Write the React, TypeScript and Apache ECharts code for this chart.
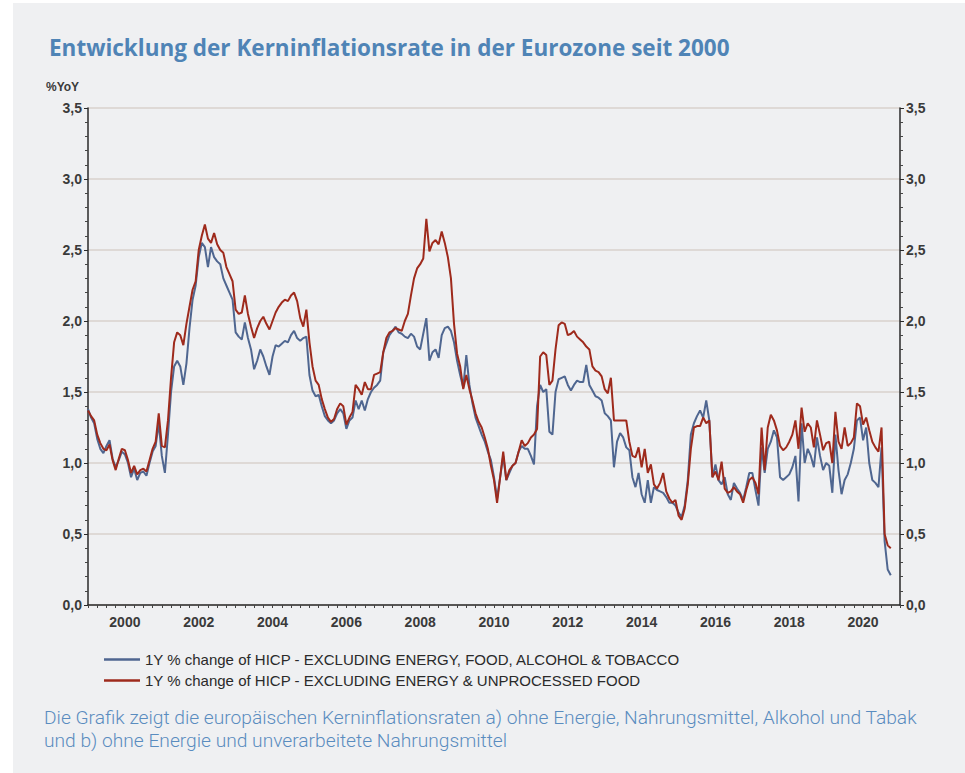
import React, { useEffect, useRef } from "react";
import * as echarts from "echarts";

// Monthly values, Jan 1999 .. Oct 2020 (one row per year)
const exEnergyFoodAlcTob: number[] = [
  1.38, 1.32, 1.28, 1.17, 1.10, 1.07, 1.12, 1.16, 1.03, 0.97, 1.02, 1.08, // 1999
  1.06, 1.00, 0.90, 0.96, 0.88, 0.93, 0.94, 0.91, 1.00, 1.08, 1.12, 1.28, // 2000
  1.05, 0.93, 1.20, 1.50, 1.68, 1.72, 1.68, 1.55, 1.70, 1.95, 2.15, 2.25, // 2001
  2.45, 2.55, 2.52, 2.38, 2.52, 2.45, 2.42, 2.40, 2.30, 2.25, 2.20, 2.15, // 2002
  1.92, 1.89, 1.87, 1.99, 1.88, 1.80, 1.66, 1.72, 1.80, 1.75, 1.68, 1.62, // 2003
  1.75, 1.83, 1.82, 1.84, 1.86, 1.85, 1.90, 1.93, 1.88, 1.86, 1.88, 1.89, // 2004
  1.62, 1.51, 1.47, 1.48, 1.40, 1.33, 1.30, 1.28, 1.30, 1.35, 1.38, 1.35, // 2005
  1.24, 1.30, 1.32, 1.44, 1.38, 1.44, 1.37, 1.45, 1.50, 1.53, 1.55, 1.58, // 2006
  1.78, 1.84, 1.90, 1.93, 1.96, 1.92, 1.91, 1.89, 1.88, 1.91, 1.89, 1.82, // 2007
  1.80, 1.91, 2.02, 1.72, 1.78, 1.80, 1.74, 1.90, 1.95, 1.96, 1.93, 1.85, // 2008
  1.72, 1.62, 1.53, 1.76, 1.55, 1.42, 1.32, 1.26, 1.20, 1.15, 1.08, 1.02, // 2009
  0.90, 0.75, 0.90, 1.05, 0.88, 0.93, 0.98, 1.00, 1.08, 1.12, 1.10, 1.10, // 2010
  1.05, 0.99, 1.40, 1.55, 1.50, 1.52, 1.22, 1.20, 1.50, 1.59, 1.60, 1.61, // 2011
  1.55, 1.51, 1.55, 1.58, 1.57, 1.57, 1.69, 1.55, 1.51, 1.47, 1.46, 1.44, // 2012
  1.35, 1.33, 1.30, 0.97, 1.15, 1.21, 1.18, 1.11, 1.09, 0.90, 0.83, 0.93, // 2013
  0.78, 0.72, 0.88, 0.72, 0.83, 0.81, 0.80, 0.79, 0.76, 0.72, 0.72, 0.70, // 2014
  0.65, 0.62, 0.70, 0.88, 1.20, 1.28, 1.33, 1.37, 1.32, 1.44, 1.30, 0.90, // 2015
  0.99, 0.88, 0.85, 0.90, 0.78, 0.74, 0.86, 0.82, 0.79, 0.74, 0.83, 0.93, // 2016
  0.93, 0.81, 0.70, 1.11, 0.93, 1.10, 1.15, 1.23, 1.18, 0.90, 0.88, 0.90, // 2017
  0.92, 0.97, 1.05, 0.73, 1.28, 1.00, 1.10, 1.05, 0.97, 1.18, 1.05, 0.95, // 2018
  1.00, 0.98, 0.79, 1.20, 0.95, 0.78, 0.88, 0.92, 1.00, 1.10, 1.30, 1.32, // 2019
  1.16, 1.25, 1.00, 0.88, 0.86, 0.83, 1.11, 0.45, 0.25, 0.21, // 2020
];

const exEnergyUnprocFood: number[] = [
  1.37, 1.33, 1.30, 1.20, 1.14, 1.10, 1.09, 1.13, 1.02, 0.95, 1.03, 1.10, // 1999
  1.09, 1.02, 0.93, 0.98, 0.92, 0.95, 0.96, 0.94, 1.02, 1.10, 1.15, 1.35, // 2000
  1.12, 1.11, 1.30, 1.60, 1.85, 1.92, 1.90, 1.83, 1.98, 2.10, 2.22, 2.28, // 2001
  2.50, 2.60, 2.68, 2.58, 2.55, 2.62, 2.54, 2.50, 2.48, 2.38, 2.33, 2.28, // 2002
  2.08, 2.05, 2.06, 2.18, 2.05, 1.96, 1.88, 1.95, 2.00, 2.03, 1.98, 1.94, // 2003
  2.00, 2.06, 2.10, 2.13, 2.15, 2.14, 2.18, 2.20, 2.14, 2.02, 1.96, 2.08, // 2004
  1.85, 1.68, 1.58, 1.55, 1.45, 1.38, 1.32, 1.29, 1.31, 1.38, 1.42, 1.40, // 2005
  1.27, 1.32, 1.36, 1.55, 1.52, 1.48, 1.57, 1.52, 1.52, 1.62, 1.63, 1.64, // 2006
  1.78, 1.88, 1.92, 1.93, 1.95, 1.94, 1.93, 2.00, 2.05, 2.18, 2.30, 2.37, // 2007
  2.40, 2.44, 2.72, 2.49, 2.55, 2.57, 2.54, 2.63, 2.55, 2.45, 2.30, 1.98, // 2008
  1.77, 1.68, 1.52, 1.62, 1.52, 1.44, 1.35, 1.29, 1.25, 1.18, 1.10, 0.98, // 2009
  0.88, 0.72, 0.90, 1.08, 0.88, 0.95, 0.98, 1.00, 1.08, 1.16, 1.12, 1.14, // 2010
  1.18, 1.20, 1.24, 1.75, 1.78, 1.76, 1.55, 1.58, 1.80, 1.97, 1.99, 1.98, // 2011
  1.90, 1.91, 1.93, 1.89, 1.87, 1.85, 1.82, 1.80, 1.68, 1.65, 1.64, 1.61, // 2012
  1.52, 1.49, 1.60, 1.30, 1.30, 1.30, 1.30, 1.30, 1.15, 1.05, 1.04, 1.11, // 2013
  0.97, 1.10, 0.93, 0.99, 0.85, 0.82, 0.86, 0.93, 0.80, 0.75, 0.72, 0.74, // 2014
  0.63, 0.60, 0.68, 0.85, 1.10, 1.25, 1.26, 1.26, 1.32, 1.28, 1.30, 0.90, // 2015
  0.94, 0.88, 1.01, 0.82, 0.79, 0.80, 0.83, 0.80, 0.78, 0.72, 0.81, 0.88, // 2016
  0.90, 0.86, 0.78, 1.25, 0.95, 1.25, 1.34, 1.30, 1.23, 1.12, 1.09, 1.11, // 2017
  1.15, 1.20, 1.30, 1.10, 1.39, 1.22, 1.28, 1.25, 1.11, 1.30, 1.20, 1.09, // 2018
  1.14, 1.15, 1.00, 1.36, 1.15, 1.10, 1.25, 1.12, 1.14, 1.18, 1.42, 1.40, // 2019
  1.27, 1.32, 1.23, 1.15, 1.11, 1.08, 1.25, 0.50, 0.42, 0.40, // 2020
];

const seriesNames = [
  "1Y % change of HICP - EXCLUDING ENERGY, FOOD, ALCOHOL & TOBACCO",
  "1Y % change of HICP - EXCLUDING ENERGY & UNPROCESSED FOOD",
];
const seriesColors = ["#4f6690", "#9e2a1c"];

const firstYear = 1999;
const lastYear = 2021; // axis runs to Jan 2021
const labelYears = ["2000", "2002", "2004", "2006", "2008", "2010", "2012", "2014", "2016", "2018", "2020"];

const titleText = "Entwicklung der Kerninflationsrate in der Eurozone seit 2000";
const unitText = "%YoY";
const captionLines = [
  "Die Grafik zeigt die europäischen Kerninflationsraten a) ohne Energie, Nahrungsmittel, Alkohol und Tabak",
  "und b) ohne Energie und unverarbeitete Nahrungsmittel",
];

const months: string[] = [];
for (let y = firstYear; y <= lastYear; y++) {
  for (let m = 1; m <= 12; m++) {
    if (y === lastYear && m > 1) break;
    months.push(`${y}-${String(m).padStart(2, "0")}`);
  }
}

export default function App() {
  const ref = useRef<HTMLDivElement>(null);
  useEffect(() => {
    if (!ref.current) return;
    const chart = echarts.init(ref.current, undefined, { renderer: "svg" });
    const axisLabelStyle = {
      color: "#3a3a3a",
      fontFamily: "Liberation Sans",
      fontWeight: "bold" as const,
      fontSize: 14,
    };
    const yAxisCommon = {
      type: "value" as const,
      min: 0,
      max: 3.5,
      interval: 0.5,
      axisLine: { show: true, lineStyle: { color: "#2a2a2a", width: 1.5 } },
      axisTick: { show: true, length: 4, lineStyle: { color: "#2a2a2a" } },
      minorTick: { show: true, splitNumber: 5, length: 3, lineStyle: { color: "#444" } },
      axisLabel: {
        ...axisLabelStyle,
        margin: 6,
        formatter: (v: number) => v.toFixed(1).replace(".", ","),
      },
    };
    chart.setOption({
      animation: false,
      backgroundColor: "#ffffff",
      title: {
        text: titleText,
        left: 44,
        top: 31,
        textStyle: {
          color: "#4f84b6",
          fontSize: 22.5,
          fontWeight: "bold",
          fontFamily: "Open Sans",
        },
      },
      graphic: [
        {
          type: "rect",
          z: -10,
          shape: { x: 13, y: 3, width: 952, height: 770 },
          style: { fill: "#eff0f2" },
        },
        {
          type: "text",
          left: 46,
          top: 81,
          style: {
            text: unitText,
            fill: "#3a3a3a",
            font: "bold 12px 'Liberation Sans'",
          },
        },
        {
          type: "text",
          left: 44,
          top: 706,
          style: {
            text: captionLines.join("\n"),
            fill: "#5a8cbf",
            font: "300 19.2px Roboto",
            lineHeight: 23,
          },
        },
      ],
      legend: {
        orient: "vertical",
        left: 99,
        top: 647,
        icon: "rect",
        itemWidth: 36,
        itemHeight: 2.5,
        itemGap: 6,
        data: seriesNames,
        textStyle: { color: "#2a2a2a", fontSize: 15, fontFamily: "Liberation Sans" },
      },
      grid: { left: 88, right: 65, top: 108, bottom: 168 },
      xAxis: {
        type: "category",
        data: months,
        boundaryGap: false,
        axisLine: { lineStyle: { color: "#2a2a2a", width: 1.5 } },
        axisTick: {
          show: true,
          length: 3,
          interval: (i: number) => i % 3 === 0,
          lineStyle: { color: "#444" },
        },
        axisLabel: {
          ...axisLabelStyle,
          margin: 10,
          interval: (i: number, v: string) => v.endsWith("-01") && labelYears.includes(v.slice(0, 4)),
          formatter: (v: string) => v.slice(0, 4),
        },
        splitLine: { show: false },
      },
      yAxis: [
        {
          ...yAxisCommon,
          position: "left",
          splitLine: { show: true, lineStyle: { color: "#d8d2cd", width: 1.5 } },
        },
        {
          ...yAxisCommon,
          position: "right",
          splitLine: { show: false },
        },
      ],
      series: [
        {
          name: seriesNames[0],
          type: "line",
          data: exEnergyFoodAlcTob,
          showSymbol: false,
          lineStyle: { color: seriesColors[0], width: 2 },
          itemStyle: { color: seriesColors[0] },
        },
        {
          name: seriesNames[1],
          type: "line",
          data: exEnergyUnprocFood,
          showSymbol: false,
          lineStyle: { color: seriesColors[1], width: 2 },
          itemStyle: { color: seriesColors[1] },
        },
      ],
    });
    return () => chart.dispose();
  }, []);
  return (
    <div
      ref={ref}
      style={{ position: "fixed", left: 0, top: 0, width: 965, height: 773 }}
    />
  );
}
